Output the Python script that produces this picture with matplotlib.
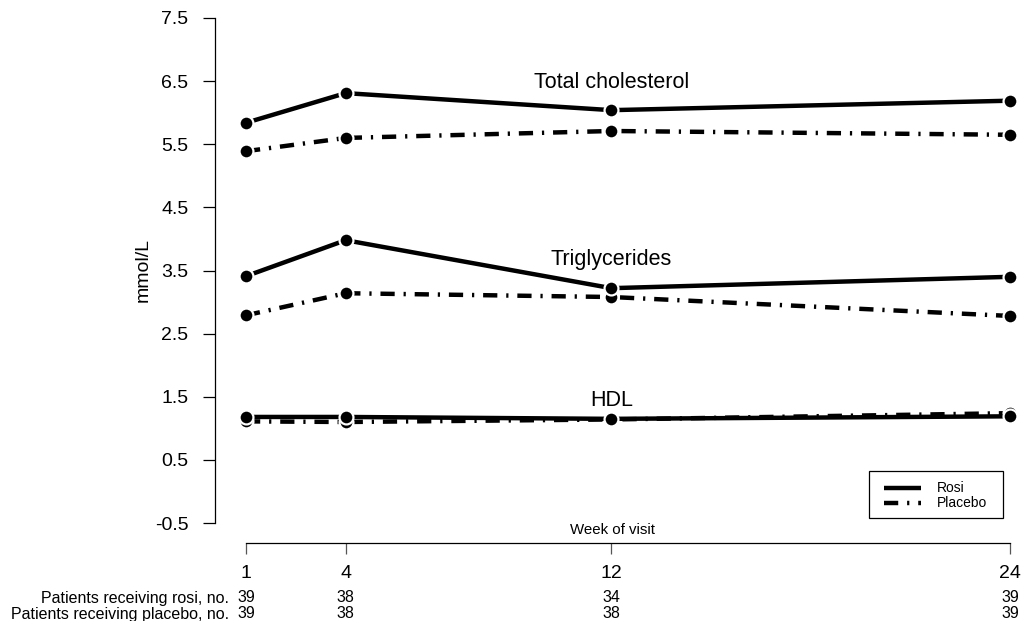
import numpy as np
import matplotlib.pyplot as plt
from matplotlib.lines import Line2D
from matplotlib.patches import Rectangle
from matplotlib.transforms import blended_transform_factory

plt.rcParams['font.family'] = ['Liberation Sans', 'DejaVu Sans']

# data
weeks = [1, 4, 12, 24]
chol_rosi = [5.84, 6.31, 6.04, 6.19]
chol_placebo = [5.39, 5.60, 5.71, 5.65]
trig_rosi = [3.41, 3.98, 3.22, 3.40]
trig_placebo = [2.79, 3.14, 3.08, 2.78]
hdl_rosi = [1.18, 1.18, 1.15, 1.19]
hdl_placebo = [1.11, 1.10, 1.14, 1.24]
n_rosi = [39, 38, 34, 39]
n_placebo = [39, 38, 38, 39]
yticks = [-0.5, 0.5, 1.5, 2.5, 3.5, 4.5, 5.5, 6.5, 7.5]
labels = [("Total cholesterol", 6.48), ("Triglycerides", 3.68), ("HDL", 1.44)]

W, H = 1023, 621
fig = plt.figure(figsize=(W / 100, H / 100), dpi=100)

# pixel layout
x0, x1 = 215, 1020
ytop, ybot = 18, 523
px_week = (1010 - 246) / 23
xlim = (1 - (246 - x0) / px_week, 24 + (x1 - 1010) / px_week)

ax = fig.add_axes([x0 / W, 1 - ybot / H, (x1 - x0) / W, (ybot - ytop) / H])
ax.set_xlim(*xlim)
ax.set_ylim(-0.5, 7.5)

dashdot = (0, (3.2, 2.0, 0.5, 2.0))
kw = dict(color='black', lw=3.2, marker='o', ms=10, mfc='black',
          mec='white', mew=1.6, solid_capstyle='butt', dash_capstyle='butt')
for r, p in [(chol_rosi, chol_placebo), (trig_rosi, trig_placebo),
             (hdl_rosi, hdl_placebo)]:
    ax.plot(weeks, p, ls=dashdot, **kw)
    ax.plot(weeks, r, ls='-', **kw)

for txt, yv in labels:
    ax.text(12, yv, txt, ha='center', va='center', fontsize=15.5)

ax.set_yticks(yticks)
ax.set_yticklabels([f"{v:.1f}" for v in yticks], fontsize=14)
ax.tick_params(axis='y', length=9, width=0.9, pad=10)
ax.set_xticks([])
for s in ['top', 'right', 'bottom']:
    ax.spines[s].set_visible(False)
ax.spines['left'].set_linewidth(0.9)
ax.set_ylabel("mmol/L", fontsize=14)
ax.yaxis.set_label_coords((152 - x0) / (x1 - x0), 0.5)

# legend box drawn in figure pixels
def fx(px):
    return px / W

def fy(py):
    return 1 - py / H

fig.patches.append(Rectangle((fx(869), fy(518)), fx(1003) - fx(869),
                             fy(471) - fy(518), transform=fig.transFigure,
                             fill=False, edgecolor='black', lw=0.9))
for py, ls, lab in [(488, '-', "Rosi"), (503, dashdot, "Placebo")]:
    fig.add_artist(Line2D([fx(884), fx(921)], [fy(py), fy(py)],
                          transform=fig.transFigure, color='black', lw=3.2,
                          ls=ls, solid_capstyle='butt', dash_capstyle='butt'))
    fig.text(fx(937), fy(py), lab, ha='left', va='center', fontsize=10)

# bottom axis with patient counts
ax2 = fig.add_axes([x0 / W, 1 - 543 / H, (x1 - x0) / W, 0.001])
ax2.set_xlim(*xlim)
ax2.set_yticks([])
for s in ['top', 'right', 'left']:
    ax2.spines[s].set_visible(False)
ax2.spines['bottom'].set_bounds(1, 24)
ax2.spines['bottom'].set_linewidth(0.9)
ax2.set_xticks(weeks)
ax2.set_xticklabels([str(w) for w in weeks], fontsize=14)
ax2.tick_params(axis='x', length=8, width=0.9, color='#555555', pad=8)
ax2.patch.set_visible(False)

fig.text(612 / W, 1 - 530 / H, "Week of visit", ha='center', va='center',
         fontsize=10.8)

tr = blended_transform_factory(ax2.transData, fig.transFigure)
for row_y, counts, lab in [(598, n_rosi, "Patients receiving rosi, no."),
                           (614, n_placebo, "Patients receiving placebo, no.")]:
    fig.text(229 / W, 1 - row_y / H, lab, ha='right', va='center', fontsize=11.5)
    for w, n in zip(weeks, counts):
        ax2.text(w, 1 - row_y / H, str(n), transform=tr, ha='center',
                 va='center', fontsize=11.5)

fig.savefig("out.png", dpi=100)
